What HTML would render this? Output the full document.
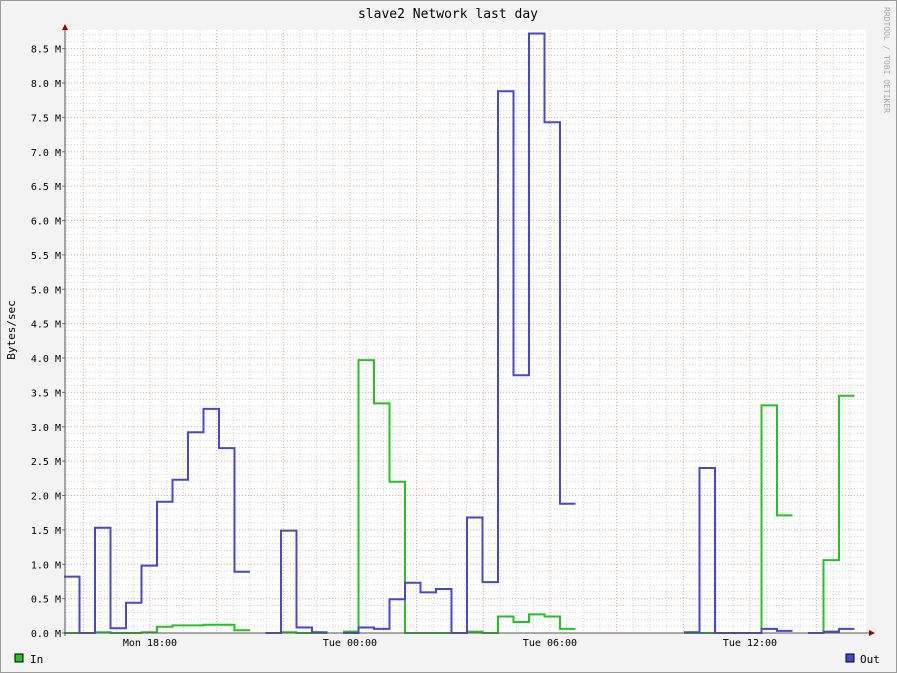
<!DOCTYPE html>
<html><head><meta charset="utf-8"><style>
html,body{margin:0;padding:0;background:#f3f3f3;}
svg{display:block;font-family:"DejaVu Sans Mono","Liberation Mono",monospace;}
</style></head><body>
<svg id="chart" width="897" height="673" xmlns="http://www.w3.org/2000/svg">
<rect x="0" y="0" width="897" height="673" fill="#f3f3f3" stroke="#9a9a9a" stroke-width="2"/>
<rect x="65" y="30" width="801" height="603" fill="#ffffff"/>
<g id="grid"></g>
<g id="series"></g>
<g id="axes"></g>
<text x="448" y="18" text-anchor="middle" font-size="13" fill="#000">slave2 Network last day</text>
<text x="15" y="330" text-anchor="middle" font-size="11" fill="#000" transform="rotate(-90 15 330)">Bytes/sec</text>
<text x="884" y="60" text-anchor="middle" font-size="8" fill="#aaa" transform="rotate(90 884 60)">RRDTOOL / TOBI OETIKER</text>
<g>
<rect x="15" y="654" width="8" height="8" fill="#22c422" stroke="#000" stroke-width="1"/>
<text x="30" y="663" font-size="11" fill="#000">In</text>
</g>
<g>
<rect x="846" y="654" width="8" height="8" fill="#4848cc" stroke="#000" stroke-width="1"/>
<text x="860" y="663" font-size="11" fill="#000">Out</text>
</g>
</svg>
<script>
const yTicks = [0,0.5,1,1.5,2,2.5,3,3.5,4,4.5,5,5.5,6,6.5,7,7.5,8,8.5];
const xTickLabels = ["Mon 18:00","Tue 00:00","Tue 06:00","Tue 12:00"];
const xTickHours = [4,10,16,22];
const inValues = [0,0,0.01,0,0,0.01,0.09,0.11,0.11,0.12,0.12,0.04,null,0,0.01,0,0,null,0.02,3.97,3.34,2.2,0,0,0,0,0.02,0,0.24,0.16,0.27,0.24,0.06,null,null,null,null,null,null,null,0,0,0,0,0,3.31,1.71,null,0,1.06,3.45];
const outValues = [0.82,0,1.53,0.07,0.44,0.98,1.91,2.23,2.92,3.26,2.69,0.89,null,0,1.49,0.08,0.01,null,0,0.08,0.06,0.49,0.73,0.59,0.64,0,1.68,0.74,7.88,3.75,8.72,7.43,1.88,null,null,null,null,null,null,null,0.01,2.4,0,0,0,0.06,0.03,null,0,0.02,0.06];

const NS="http://www.w3.org/2000/svg";
const X0=65,X1=866,Y0=633;
const pxPerM=68.75, pxPerHour=33.333, hourOrigin=14; // x=65 at 14:00 approx
function yScale(v){return Y0 - v*pxPerM;}
function xHour(h){return X0 + (h-(hourOrigin-14)- 0.0)*pxPerHour + 18.3;}
const stepW=15.5, stepX0=64;
function xStep(i){return stepX0 + i*stepW;}
function mk(tag,attrs,parent){const e=document.createElementNS(NS,tag);for(const k in attrs)e.setAttribute(k,attrs[k]);parent.appendChild(e);return e;}
const grid=document.getElementById('grid'),axes=document.getElementById('axes'),series=document.getElementById('series');
// horizontal minor grid
for(let v=0.1;v<=8.75;v+=0.1){const y=yScale(v);if(y<30)break;
  const major=Math.abs(v*2-Math.round(v*2))<0.01;
  const l=mk('line',{x1:X0,x2:X1,y1:y,y2:y,stroke:major?'#e8a0a0':'#d0d0d0','stroke-dasharray':'1,2','stroke-width':1},grid);
  
  
}
// vertical grid every 30 min, major every 2h
for(let k=0;k<60;k++){const h=k*0.5;const x=xHour(h)-2*pxPerHour+0; if(x<=X0||x>X1)continue;
  const major=(k%4)===0;
  const l=mk('line',{x1:x,x2:x,y1:30,y2:Y0,stroke:major?'#e8a0a0':'#d0d0d0','stroke-dasharray':'1,2','stroke-width':1},grid);
  
  
}
// y labels
yTicks.forEach(v=>{const y=yScale(v);
  const t=mk('text',{x:61,y:y+4,'text-anchor':'end','font-size':10,fill:'#000'},axes);t.textContent=v.toFixed(1)+' M';
  
  
  const tk=mk('line',{x1:62,x2:65,y1:y,y2:y,stroke:'#777'},axes);
  
  
});
xTickLabels.forEach((lab,i)=>{const x=xHour(xTickHours[i])-2*pxPerHour;
  const t=mk('text',{x:x,y:646,'text-anchor':'middle','font-size':10,fill:'#000'},axes);t.textContent=lab;
  
  
});
// series
function drawSeries(vals,color,name){
  let d='';let prev=null;
  vals.forEach((v,i)=>{
    if(v===null){prev=null;return;}
    const y=yScale(v).toFixed(1);
    if(prev===null)d+='M'+xStep(i)+','+y;else d+='V'+y;
    d+='H'+xStep(i+1);prev=v;
  });
  const p=mk('path',{d:d,fill:'none',stroke:color,'stroke-width':2},series);
  
  
}
drawSeries(inValues,'#22c422','series-in');
drawSeries(outValues,'#4848cc','series-out');
// axes
const ax=mk('line',{x1:X0,x2:X0,y1:Y0+3,y2:30,stroke:'#555'},axes);


const axx=mk('line',{x1:62,x2:870,y1:Y0,y2:Y0,stroke:'#555'},axes);


const a1=mk('path',{d:'M62,30 L68,30 L65,24 Z',fill:'#a00000'},axes);


const a2=mk('path',{d:'M869,630 L869,636 L875,633 Z',fill:'#a00000'},axes);


</script>
</body></html>
